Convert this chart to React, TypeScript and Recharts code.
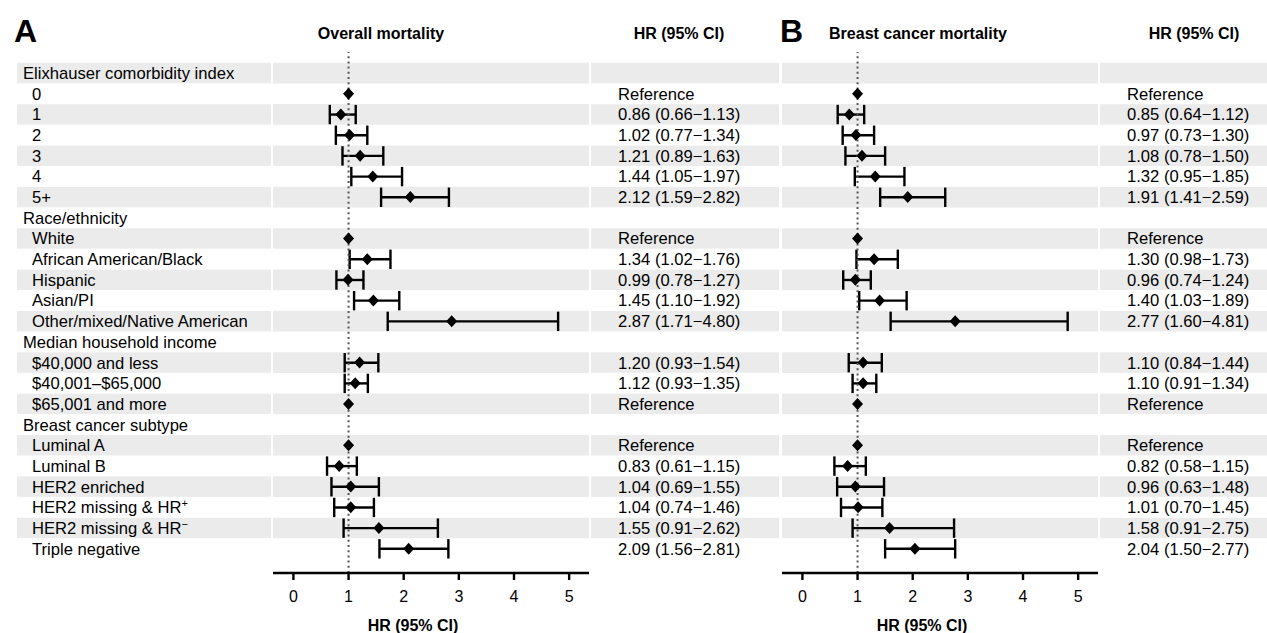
import React from 'react';
import { ComposedChart, Bar, Line, XAxis, YAxis, ReferenceArea, ReferenceLine } from 'recharts';

const FONT = '"Liberation Sans", Arial, Helvetica, sans-serif';
const SHADE = '#ebebeb';

const ROW_LABELS = [
  'Elixhauser comorbidity index', '0', '1', '2', '3', '4', '5+',
  'Race/ethnicity', 'White', 'African American/Black', 'Hispanic', 'Asian/PI', 'Other/mixed/Native American',
  'Median household income', '$40,000 and less', '$40,001–$65,000', '$65,001 and more',
  'Breast cancer subtype', 'Luminal A', 'Luminal B', 'HER2 enriched', 'HER2 missing & HR+', 'HER2 missing & HR−', 'Triple negative',
];
const HEADER_ROWS = [0, 7, 13, 17];

const OVERALL_HR = [null, 1, 0.86, 1.02, 1.21, 1.44, 2.12, null, 1, 1.34, 0.99, 1.45, 2.87, null, 1.2, 1.12, 1, null, 1, 0.83, 1.04, 1.04, 1.55, 2.09];
const OVERALL_LO = [null, null, 0.66, 0.77, 0.89, 1.05, 1.59, null, null, 1.02, 0.78, 1.1, 1.71, null, 0.93, 0.93, null, null, null, 0.61, 0.69, 0.74, 0.91, 1.56];
const OVERALL_HI = [null, null, 1.13, 1.34, 1.63, 1.97, 2.82, null, null, 1.76, 1.27, 1.92, 4.8, null, 1.54, 1.35, null, null, null, 1.15, 1.55, 1.46, 2.62, 2.81];

const CANCER_HR = [null, 1, 0.85, 0.97, 1.08, 1.32, 1.91, null, 1, 1.3, 0.96, 1.4, 2.77, null, 1.1, 1.1, 1, null, 1, 0.82, 0.96, 1.01, 1.58, 2.04];
const CANCER_LO = [null, null, 0.64, 0.73, 0.78, 0.95, 1.41, null, null, 0.98, 0.74, 1.03, 1.6, null, 0.84, 0.91, null, null, null, 0.58, 0.63, 0.7, 0.91, 1.5];
const CANCER_HI = [null, null, 1.12, 1.3, 1.5, 1.85, 2.59, null, null, 1.73, 1.24, 1.89, 4.81, null, 1.44, 1.34, null, null, null, 1.15, 1.48, 1.45, 2.75, 2.77];

const X_TICKS = [0, 1, 2, 3, 4, 5];
const X_DOMAIN = [-0.37, 5.36];

type Row = { label: string; header: boolean; hr: number | null; ci: number[] | null; text: string };

function buildRows(hr: (number | null)[], lo: (number | null)[], hi: (number | null)[]): Row[] {
  return ROW_LABELS.map((label, i) => {
    const h = hr[i];
    const l = lo[i];
    const u = hi[i];
    let text = '';
    if (h != null) {
      text = l == null || u == null ? 'Reference' : `${h.toFixed(2)} (${l.toFixed(2)}−${u.toFixed(2)})`;
    }
    return { label, header: HEADER_ROWS.includes(i), hr: h, ci: l != null && u != null ? [l, u] : null, text };
  });
}

const overallRows = buildRows(OVERALL_HR, OVERALL_LO, OVERALL_HI);
const cancerRows = buildRows(CANCER_HR, CANCER_LO, CANCER_HI);

const renderLabel = (label: string) => {
  if (label.endsWith('HR+') || label.endsWith('HR−')) {
    const base = label.slice(0, -1);
    const sup = label.slice(-1);
    return (
      <>
        {base}
        <tspan dy={-6} fontSize={11}>{sup}</tspan>
      </>
    );
  }
  return label;
};

type TickCfg = { labelRect?: [number, number]; textRect: [number, number]; showLabel: boolean; textX: number };

const makeTick = (rows: Row[], cfg: TickCfg) => (props: any) => {
  const { y, payload } = props;
  const idx = rows.findIndex((r) => r.label === payload.value);
  if (idx < 0) return <g />;
  const row = rows[idx];
  const shaded = idx % 2 === 0;
  return (
    <g>
      {shaded && cfg.labelRect && (
        <rect x={cfg.labelRect[0]} y={y - 10.2} width={cfg.labelRect[1]} height={20.4} fill={SHADE} />
      )}
      {shaded && <rect x={cfg.textRect[0]} y={y - 10.2} width={cfg.textRect[1]} height={20.4} fill={SHADE} />}
      {cfg.showLabel && (
        <text x={row.header ? 23 : 32} y={y} dy="0.36em" fontSize={16.6} fill="#000" fontFamily={FONT} textAnchor="start">
          {renderLabel(row.label)}
        </text>
      )}
      {row.text && (
        <text x={cfg.textX} y={y} dy="0.36em" fontSize={16.6} fill="#000" fontFamily={FONT} textAnchor="start">
          {row.text}
        </text>
      )}
    </g>
  );
};

const XTick = (props: any) => {
  const { x, y, payload } = props;
  return (
    <text x={x} y={y} dy="0.72em" textAnchor="middle" fontSize={16} fill="#000" fontFamily={FONT}>
      {payload.value}
    </text>
  );
};

const CIShape = (props: any) => {
  const { x, y, width, height, payload } = props;
  if (!payload || !payload.ci || x == null || width == null) return <g />;
  const cy = y + height / 2;
  const x2 = x + width;
  return (
    <g stroke="#000" strokeWidth={2.4} fill="none">
      <line x1={x} y1={cy} x2={x2} y2={cy} />
      <line x1={x} y1={y + 0.8} x2={x} y2={y + height - 0.8} />
      <line x1={x2} y1={y + 0.8} x2={x2} y2={y + height - 0.8} />
    </g>
  );
};

const Diamond = (props: any) => {
  const { cx, cy, index, payload } = props;
  if (cx == null || cy == null || isNaN(cx) || !payload || payload.hr == null) return <g key={`d-${index}`} />;
  const w = 5.5;
  const h = 6;
  return (
    <path key={`d-${index}`} d={`M${cx},${cy - h} L${cx + w},${cy} L${cx},${cy + h} L${cx - w},${cy} Z`} fill="#000" stroke="none" />
  );
};

type PanelProps = {
  rows: Row[];
  width: number;
  margin: { top: number; right: number; left: number; bottom: number };
  yWidth: number;
  tick: (p: any) => React.ReactElement;
};

const Panel = ({ rows, width, margin, yWidth, tick }: PanelProps) => (
  <ComposedChart width={width} height={633} data={rows} layout="vertical" margin={margin} barCategoryGap={0}>
    {rows
      .filter((_, i) => i % 2 === 0)
      .map((r) => (
        <ReferenceArea key={r.label} y1={r.label} y2={r.label} fill={SHADE} fillOpacity={1} stroke="none" ifOverflow="visible" />
      ))}
    <XAxis
      type="number"
      domain={X_DOMAIN}
      ticks={X_TICKS}
      allowDataOverflow
      axisLine={{ stroke: '#000', strokeWidth: 2.4 }}
      tickLine={{ stroke: '#000', strokeWidth: 2.4 }}
      tickSize={7}
      tickMargin={10}
      tick={XTick}
      height={60}
      label={{ value: 'HR (95% CI)', position: 'insideBottom', offset: 2, dx: -18, fill: '#000', fontWeight: 'bold', fontSize: 16, fontFamily: FONT }}
    />
    <YAxis
      type="category"
      dataKey="label"
      width={yWidth}
      interval={0}
      axisLine={false}
      tickLine={false}
      tick={tick}
      padding={{ top: 10.7, bottom: 14 }}
    />
    <ReferenceLine x={1} stroke="#555" strokeWidth={2} strokeDasharray="2 3.2" ifOverflow="visible" />
    <Bar dataKey="ci" shape={CIShape} isAnimationActive={false} legendType="none" />
    <Line dataKey="hr" stroke="none" dot={Diamond} activeDot={false} isAnimationActive={false} legendType="none" />
  </ComposedChart>
);

const tickA = makeTick(overallRows, { labelRect: [17, 254], textRect: [591, 188], showLabel: true, textX: 618 });
const tickB = makeTick(cancerRows, { textRect: [320, 167], showLabel: false, textX: 347 });

const Title = ({ x, y, text, size, anchor }: { x: number; y: number; text: string; size: number; anchor: 'start' | 'middle' }) => (
  <text x={x} y={y} fontSize={size} fontWeight="bold" fill="#000" fontFamily={FONT} textAnchor={anchor}>
    {text}
  </text>
);

export default function App() {
  return (
    <div style={{ position: 'absolute', left: 0, top: 0, width: 1267, height: 633, background: '#fff', fontFamily: FONT }}>
      <div style={{ position: 'absolute', left: 0, top: 0 }}>
        <Panel rows={overallRows} width={780} margin={{ top: 52, right: 191, left: 17, bottom: 0 }} yWidth={256} tick={tickA} />
      </div>
      <div style={{ position: 'absolute', left: 780, top: 0 }}>
        <Panel rows={cancerRows} width={487} margin={{ top: 52, right: 169, left: 0, bottom: 0 }} yWidth={2} tick={tickB} />
      </div>
      <svg width={1267} height={50} style={{ position: 'absolute', left: 0, top: 0, pointerEvents: 'none' }}>
        <Title x={14} y={42} text="A" size={32} anchor="start" />
        <Title x={381} y={39} text="Overall mortality" size={16} anchor="middle" />
        <Title x={679} y={39} text="HR (95% CI)" size={16} anchor="middle" />
        <Title x={780} y={42} text="B" size={32} anchor="start" />
        <Title x={918} y={39} text="Breast cancer mortality" size={16} anchor="middle" />
        <Title x={1194} y={39} text="HR (95% CI)" size={16} anchor="middle" />
      </svg>
    </div>
  );
}
